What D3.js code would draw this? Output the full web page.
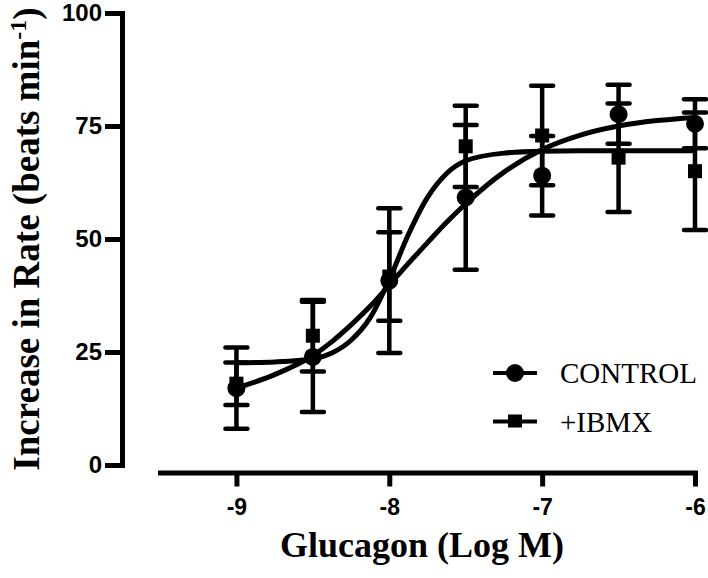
<!DOCTYPE html>
<html>
<head>
<meta charset="utf-8">
<script src="https://cdnjs.cloudflare.com/ajax/libs/d3/7.8.5/d3.min.js"></script>
<style>
  body { margin: 0; background: #fff; }
  svg { display: block; }
  .tick text { font-family: "Liberation Sans", Arial, sans-serif; font-weight: bold; fill: #000; }
  .title { font-family: "Liberation Serif", "Times New Roman", serif; font-weight: bold; fill: #000; }
  .legend text { font-family: "Liberation Serif", "Times New Roman", serif; fill: #000; }
</style>
</head>
<body>
<svg id="chart" width="708" height="578"></svg>
<script>
// Data (log M glucagon vs increase in rate, mean +/- error)
var doses = [-9, -8.5, -8, -7.5, -7, -6.5, -6];
var controlMean = [17.0, 23.9, 40.8, 59.2, 64.0, 77.6, 75.5];
var controlErr = [9.0, 12.2, 16.0, 16.0, 8.8, 6.5, 5.4];
var ibmxMean = [18.0, 28.6, 41.7, 70.5, 72.9, 68.0, 65.0];
var ibmxErr = [4.7, 7.9, 9.8, 9.0, 11.0, 12.0, 13.0];

// Fitted curves
var curveDoses = [-9, -8.75, -8.5, -8.375, -8.25, -8.125, -8, -7.875, -7.75, -7.625, -7.5, -7.25, -7, -6.75, -6.5, -6.25, -6];
var controlFit = [17.0, 20.0, 24.2, 27.3, 31.0, 35.1, 39.8, 44.6, 49.2, 53.7, 57.8, 64.8, 69.8, 73.0, 75.0, 76.2, 76.9];
var ibmxFit = [22.6, 22.8, 23.5, 24.8, 27.6, 32.6, 41.0, 51.0, 59.2, 64.5, 67.3, 69.0, 69.4, 69.5, 69.5, 69.5, 69.5];

var xTicks = [-9, -8, -7, -6];
var yTicks = [0, 25, 50, 75, 100];
var seriesNames = ['CONTROL', '+IBMX'];

var svg = d3.select('svg#chart');

var xScale = d3.scaleLinear().domain([-9.5, -6]).range([160, 695]);
var yScale = d3.scaleLinear().domain([0, 100]).range([465, 13]);

var yAxisX = 122;
var xAxisY = 472.5;

// plain hyphen labels like the original
var plain = function(d) { return String(d); };

// Axes
var xAxis = d3.axisBottom(xScale).tickValues(xTicks).tickFormat(plain)
  .tickSizeOuter(0).tickSizeInner(14).tickPadding(12);
var yAxis = d3.axisLeft(yScale).tickValues(yTicks).tickFormat(plain)
  .tickSizeOuter(0).tickSizeInner(17).tickPadding(3);

var gx = svg.append('g')
  .attr('class', 'x-axis')
  .attr('transform', 'translate(0,' + xAxisY + ')')
  .call(xAxis);
var gy = svg.append('g')
  .attr('class', 'y-axis')
  .attr('transform', 'translate(' + yAxisX + ',0)')
  .call(yAxis);

[gx, gy].forEach(function(g) {
  g.select('.domain').attr('stroke', '#000').attr('stroke-width', 5).attr('stroke-linecap', 'square');
  g.selectAll('.tick line').attr('stroke', '#000').attr('stroke-width', 5);
});
gx.selectAll('.tick text').attr('font-size', 23);
gy.selectAll('.tick text').attr('font-size', 24);

// Axis titles
svg.append('text')
  .attr('class', 'title')
  .attr('x', 422)
  .attr('y', 557)
  .attr('text-anchor', 'middle')
  .attr('font-size', 36)
  .text('Glucagon (Log M)');

var yTitle = svg.append('text')
  .attr('class', 'title')
  .attr('transform', 'translate(39,239) rotate(-90)')
  .attr('text-anchor', 'middle')
  .attr('font-size', 37);
yTitle.append('tspan').text('Increase in Rate (beats min');
yTitle.append('tspan').attr('font-size', 24).attr('dy', -13).text('-1');
yTitle.append('tspan').attr('dy', 13).text(')');

// Fitted curves
var line = d3.line()
  .x(function(d) { return xScale(d[0]); })
  .y(function(d) { return yScale(d[1]); })
  .curve(d3.curveMonotoneX);

[controlFit, ibmxFit].forEach(function(fit) {
  svg.append('path')
    .datum(d3.zip(curveDoses, fit))
    .attr('fill', 'none')
    .attr('stroke', '#000')
    .attr('stroke-width', 5)
    .attr('d', line);
});

// Error bars
var capHalf = 11;
function drawErrors(means, errs) {
  var g = svg.append('g').attr('stroke', '#000').attr('stroke-width', 4.5).attr('stroke-linecap', 'round');
  doses.forEach(function(d, i) {
    var x = xScale(d);
    var top = yScale(means[i] + errs[i]);
    var bot = yScale(means[i] - errs[i]);
    g.append('line').attr('x1', x).attr('x2', x).attr('y1', top).attr('y2', bot).attr('stroke-linecap', 'butt');
    g.append('line').attr('x1', x - capHalf).attr('x2', x + capHalf).attr('y1', top).attr('y2', top);
    g.append('line').attr('x1', x - capHalf).attr('x2', x + capHalf).attr('y1', bot).attr('y2', bot);
  });
}
drawErrors(controlMean, controlErr);
drawErrors(ibmxMean, ibmxErr);

// Markers
svg.append('g').selectAll('rect')
  .data(d3.zip(doses, ibmxMean))
  .enter().append('rect')
  .attr('x', function(d) { return xScale(d[0]) - 7; })
  .attr('y', function(d) { return yScale(d[1]) - 7; })
  .attr('width', 14)
  .attr('height', 14)
  .attr('fill', '#000');

svg.append('g').selectAll('circle')
  .data(d3.zip(doses, controlMean))
  .enter().append('circle')
  .attr('cx', function(d) { return xScale(d[0]); })
  .attr('cy', function(d) { return yScale(d[1]); })
  .attr('r', 9)
  .attr('fill', '#000');

// Legend
var legend = svg.append('g').attr('class', 'legend');
seriesNames.forEach(function(name, i) {
  var y = 373 + i * 48.5;
  legend.append('line')
    .attr('x1', 493).attr('x2', 537).attr('y1', y).attr('y2', y)
    .attr('stroke', '#000').attr('stroke-width', 4);
  if (i === 0) {
    legend.append('circle').attr('cx', 515).attr('cy', y).attr('r', 9).attr('fill', '#000');
  } else {
    legend.append('rect').attr('x', 508).attr('y', y - 7).attr('width', 14).attr('height', 13).attr('fill', '#000');
  }
  legend.append('text')
    .attr('x', 560)
    .attr('y', y + 10)
    .attr('font-size', 29)
    .text(name);
});
</script>
</body>
</html>
